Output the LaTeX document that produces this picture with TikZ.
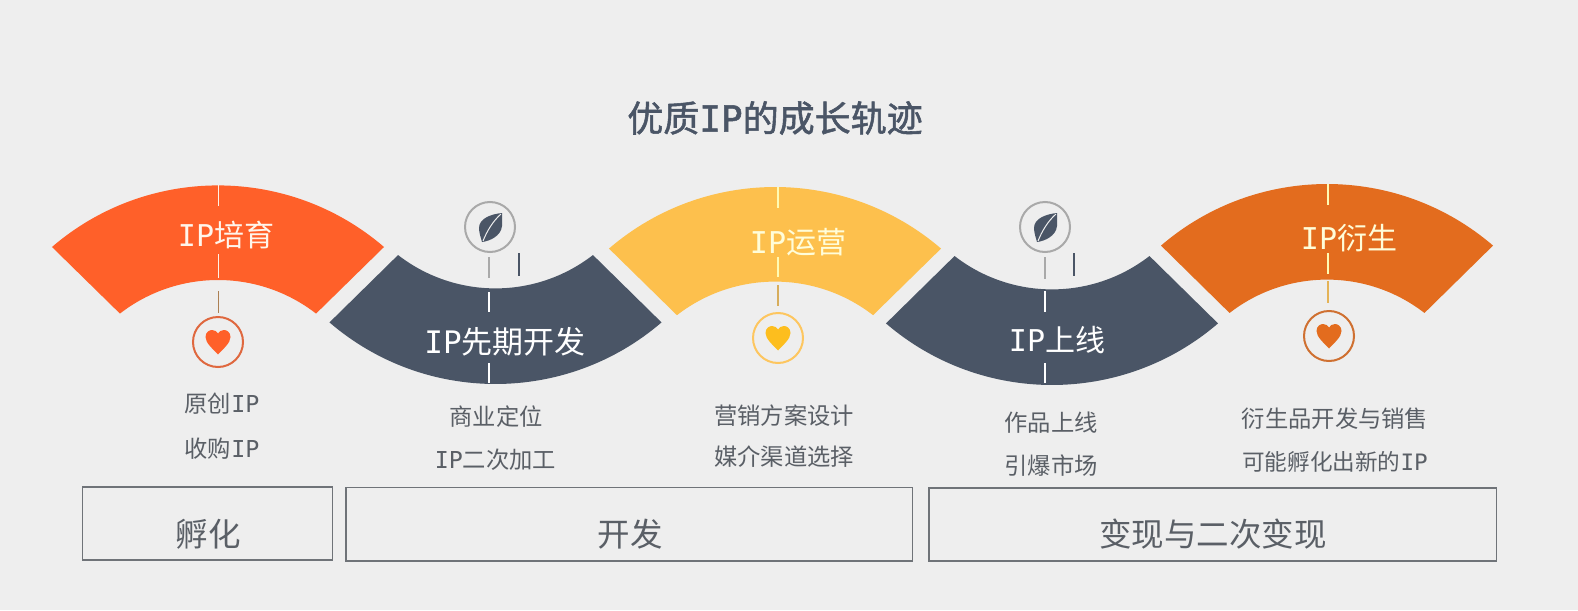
\documentclass[tikz,border=0pt]{standalone}
\usepackage{fontspec}
\setmainfont{Noto Sans CJK SC}
\newfontfamily\titlefont[FakeBold=1.5]{Noto Sans CJK SC}
\newfontfamily\ipfont{DejaVu Sans Mono}
\newfontfamily\ipboldfont[FakeBold=1.5]{DejaVu Sans Mono}
\newcommand{\ipt}{{\ipfont IP}}
\definecolor{bgc}{HTML}{EEEEEE}
\definecolor{orangec}{HTML}{FF6029}
\definecolor{darkc}{HTML}{4A5566}
\definecolor{yellowc}{HTML}{FDC04D}
\definecolor{goldc}{HTML}{FDBE1E}
\definecolor{deepc}{HTML}{E36C1E}
\definecolor{textc}{HTML}{5A5F66}
\definecolor{boxc}{HTML}{6F7378}
\definecolor{greyc}{HTML}{A9A9A9}
\tikzset{
  capt/.style={inner sep=0pt,anchor=center,text=white,font=\fontsize{30}{30}\selectfont},
  listt/.style={inner sep=0pt,anchor=center,text=textc,font=\fontsize{23.3}{23.3}\selectfont},
  boxt/.style={inner sep=0pt,anchor=center,text=textc,font=\fontsize{32.5}{32.5}\selectfont},
  framebox/.style={draw=boxc,line width=1.4pt,fill=none},
  ring/.style={circle,draw=#1,line width=2pt,minimum size=50pt,inner sep=0pt},
  tick/.style={draw=#1,line width=2.2pt},
  thintick/.style={draw=#1,line width=1.6pt}
}
\newcommand{\upband}[4]{\fill[#4,shift={(#1,#2)}] (130.7:254.6pt) arc[start angle=130.7,end angle=49.3,radius=254.6pt] -- (52.2:#3pt) arc[start angle=52.2,end angle=127.8,radius=#3pt] -- cycle;}
\newcommand{\downband}[4]{\fill[#4,shift={(#1,#2)}] (229.3:254.6pt) arc[start angle=229.3,end angle=310.7,radius=254.6pt] -- (307.8:#3pt) arc[start angle=307.8,end angle=232.2,radius=#3pt] -- cycle;}
\newcommand{\heartmark}[3]{\fill[#3,shift={(#1,#2)}] (0,12.5) .. controls (-5,7) and (-12.5,1) .. (-12.5,-5) .. controls (-12.5,-10) and (-8.5,-12) .. (-6,-12) .. controls (-3.5,-12) and (-1,-10.5) .. (0,-8.5) .. controls (1,-10.5) and (3.5,-12) .. (6,-12) .. controls (8.5,-12) and (12.5,-10) .. (12.5,-5) .. controls (12.5,1) and (5,7) .. (0,12.5) -- cycle;}
\newcommand{\leafmark}[2]{\begin{scope}[shift={(#1,#2)}]
\fill[darkc] (12,-14) .. controls (2,-13) and (-11,-9) .. (-11,1) .. controls (-11,6) and (-9,11) .. (-8,15) .. controls (0,14) and (11,9) .. (12,-1) .. controls (12.5,-6) and (12,-10) .. (12,-14) -- cycle;
\draw[bgc,line width=1pt] (11,-13) .. controls (3,-6) and (-3,4) .. (-7,14);
\end{scope}}
\begin{document}
\begin{tikzpicture}[x=1pt,y=-1pt]
\useasboundingbox (0,0) rectangle (1578,610);
\fill[bgc] (0,0) rectangle (1578,610);

\node[inner sep=0pt,text=darkc,font=\fontsize{36}{36}\selectfont\titlefont] (title) at (775,118) {优质{\ipboldfont IP}的成长轨迹};

\upband{218}{440}{160}{orangec}
\downband{495.5}{129.4}{159}{darkc}
\upband{775}{441.6}{160}{yellowc}
\downband{1052}{130.4}{159}{darkc}
\upband{1327}{438.6}{159}{deepc}

\draw[tick=orange!10!white,line width=1.4pt] (218.5,185) -- (218.5,206);
\draw[tick=orange!10!white,line width=1.4pt] (218.5,254) -- (218.5,278);
\draw[thintick=brown!70!gray] (218.5,291) -- (218.5,313);
\draw[tick=greyc] (489,257) -- (489,278);
\draw[thintick=darkc] (519,253) -- (519,276);
\draw[tick=white] (489,292) -- (489,312);
\draw[tick=white] (489,363) -- (489,383);
\draw[tick=yellow!30!white] (778,187) -- (778,208);
\draw[tick=yellow!30!white] (778,257) -- (778,277);
\draw[tick=yellowc!70!gray] (778,285) -- (778,306);
\draw[tick=greyc] (1045,257) -- (1045,279);
\draw[thintick=darkc] (1074,253) -- (1074,276);
\draw[tick=white] (1045,291) -- (1045,312);
\draw[tick=white] (1045,363) -- (1045,383);
\draw[tick=yellow!30!white] (1328,184) -- (1328,205);
\draw[tick=yellow!30!white] (1328,253) -- (1328,274);
\draw[tick=yellowc!80!gray] (1328,281) -- (1328,303);

\node[ring={orangec!75!gray}] (r1) at (218,342) {};
\heartmark{218}{342}{orangec}
\node[ring=greyc] (r2) at (490,227) {};
\leafmark{490}{227}
\node[ring={yellowc!90!white}] (r3) at (778,338) {};
\heartmark{778}{338}{goldc}
\node[ring=greyc] (r4) at (1045,227) {};
\leafmark{1045}{227}
\node[ring={deepc!80!gray}] (r5) at (1329,336) {};
\heartmark{1329}{336}{deepc}

\node[capt,text=orange!8!white] (c1) at (226,235) {\ipt 培育};
\node[capt,font=\fontsize{31}{31}\selectfont] (c2) at (505,342) {\ipt 先期开发};
\node[capt,text=yellow!15!white] (c3) at (798,242) {\ipt 运营};
\node[capt] (c4) at (1057,340) {\ipt 上线};
\node[capt,text=yellow!15!white] (c5) at (1349,238) {\ipt 衍生};

\node[listt] (l1a) at (222,404) {原创\ipt};
\node[listt] (l1b) at (222,449) {收购\ipt};
\node[listt] (l2a) at (496,417) {商业定位};
\node[listt] (l2b) at (495.5,460) {\ipt 二次加工};
\node[listt] (l3a) at (784,416) {营销方案设计};
\node[listt] (l3b) at (784,457) {媒介渠道选择};
\node[listt] (l4a) at (1051,423) {作品上线};
\node[listt] (l4b) at (1051,466) {引爆市场};
\node[listt] (l5a) at (1335,419) {衍生品开发与销售};
\node[listt,font=\fontsize{22.6}{22.6}\selectfont] (l5b) at (1335,462) {可能孵化出新的\ipt};

\draw[framebox] (82.5,487) rectangle (332.7,560);
\draw[framebox] (346,487.5) rectangle (912.5,561);
\draw[framebox] (929,488) rectangle (1496.5,561);
\node[boxt] (b1) at (208,534) {孵化};
\node[boxt] (b2) at (630,534) {开发};
\node[boxt] (b3) at (1213,534) {变现与二次变现};
\end{tikzpicture}
\end{document}
